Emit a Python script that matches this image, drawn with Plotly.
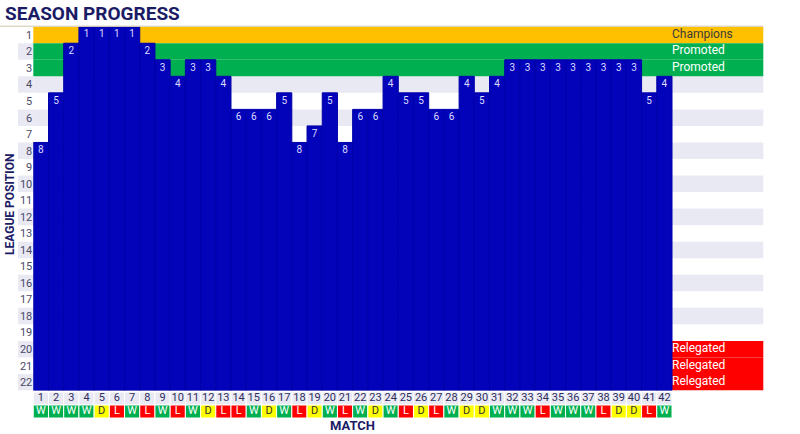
import plotly.graph_objects as go

# ---------------- data ----------------
matches = list(range(1, 43))
positions = [8, 5, 2, 1, 1, 1, 1, 2, 3, 4, 3, 3, 4, 6, 6, 6, 5, 8, 7, 5, 8,
             6, 6, 4, 5, 5, 6, 6, 4, 5, 4, 3, 3, 3, 3, 3, 3, 3, 3, 3, 5, 4]
results = ["W", "W", "W", "W", "D", "L", "W", "L", "W", "L", "W", "D", "L", "L",
           "W", "D", "W", "L", "D", "W", "L", "W", "D", "W", "L", "D", "L", "W",
           "D", "D", "W", "W", "W", "L", "W", "W", "W", "L", "D", "D", "L", "W"]
league_rows = list(range(1, 23))
zone_rows = [1, 2, 3, 20, 21, 22]
zone_labels = ["Champions", "Promoted", "Promoted", "Relegated", "Relegated", "Relegated"]

# ---------------- style ----------------
W_, H_ = 800, 434
BLUE = "#0303ba"
BLUE_EDGE = "#0000a8"
GOLD = "#ffc000"
GREEN = "#00b050"
RED = "#ff0000"
YELLOW = "#ffff00"
LAV = "#e9e9f3"
NAVY = "#1b1b66"
FONT = "Roboto"

def px(x):
    return x / W_

def py(y):
    return 1 - y / H_

X_LEFT, X_COLS_END, X_RIGHT = 33.3, 672.0, 763.3
col_w = (X_COLS_END - X_LEFT) / 42.0
x_max = 42.5 + (X_RIGHT - X_COLS_END) / col_w
Y_TOP, Y_BOT = 26.7, 390.5

result_colors = {"W": GREEN, "L": RED, "D": YELLOW}
result_text_colors = {"W": "white", "L": "white", "D": "#333333"}
zone_fill = {"Champions": GOLD, "Promoted": GREEN, "Relegated": RED}
zone_text = {"Champions": "#3a3a3a", "Promoted": "white", "Relegated": "white"}

fig = go.Figure()

# blue position bars (from position down to bottom row)
fig.add_trace(go.Bar(
    x=matches,
    y=[(p - 0.5) - 22.5 for p in positions],
    base=22.5,
    width=1.0,
    marker=dict(color=BLUE, line=dict(color=BLUE_EDGE, width=1)),
    hoverinfo="skip", showlegend=False,
))
# position numbers
fig.add_trace(go.Scatter(
    x=matches, y=positions, mode="text",
    text=[str(p) for p in positions],
    textfont=dict(color="#dcdcff", size=10, family=FONT),
    hoverinfo="skip", showlegend=False,
))
# zone labels
fig.add_trace(go.Scatter(
    x=[42.5] * len(zone_rows), y=zone_rows, mode="text",
    text=zone_labels, textposition="middle right",
    textfont=dict(color=[zone_text[z] for z in zone_labels], size=12, family=FONT),
    hoverinfo="skip", showlegend=False,
))

# bottom strip: match numbers + results
fig.add_trace(go.Bar(
    x=matches, y=[1] * 42, base=0.5, width=1.0, xaxis="x", yaxis="y2",
    marker=dict(color=LAV, line=dict(color="white", width=1)),
    hoverinfo="skip", showlegend=False,
))
fig.add_trace(go.Bar(
    x=matches, y=[1] * 42, base=1.5, width=1.0, xaxis="x", yaxis="y2",
    marker=dict(color=[result_colors[r] for r in results], line=dict(color="white", width=1)),
    hoverinfo="skip", showlegend=False,
))
fig.add_trace(go.Scatter(
    x=matches, y=[1] * 42, mode="text", xaxis="x", yaxis="y2",
    text=[str(m) for m in matches],
    textfont=dict(color="#2e2e5e", size=11, family=FONT),
    hoverinfo="skip", showlegend=False,
))
fig.add_trace(go.Scatter(
    x=matches, y=[2] * 42, mode="text", xaxis="x", yaxis="y2",
    text=results,
    textfont=dict(color=[result_text_colors[r] for r in results], size=11, family=FONT),
    hoverinfo="skip", showlegend=False,
))

# background bands
shapes = []
for r in league_rows:
    if r % 2 == 0:
        shapes.append(dict(type="rect", xref="paper", yref="y", x0=px(18), x1=px(X_LEFT),
                           y0=r - 0.5, y1=r + 0.5, fillcolor=LAV, line=dict(width=0), layer="below"))
    if 4 <= r <= 19 and r % 2 == 0:
        shapes.append(dict(type="rect", xref="paper", yref="y", x0=px(X_LEFT), x1=px(X_RIGHT),
                           y0=r - 0.5, y1=r + 0.5, fillcolor=LAV, line=dict(width=0), layer="below"))
for r, z in zip(zone_rows, zone_labels):
    x_start = X_LEFT if z != "Relegated" else X_COLS_END
    shapes.append(dict(type="rect", xref="paper", yref="y", x0=px(x_start), x1=px(X_RIGHT),
                       y0=r - 0.5, y1=r + 0.5, fillcolor=zone_fill[z], line=dict(width=0), layer="below"))
shapes.append(dict(type="line", xref="paper", yref="paper", x0=0, x1=px(X_RIGHT),
                   y0=py(26.2), y1=py(26.2), line=dict(color="#cfc6a8", width=1)))

fig.update_layout(
    width=W_, height=H_,
    margin=dict(l=0, r=0, t=0, b=0),
    paper_bgcolor="white", plot_bgcolor="rgba(0,0,0,0)",
    template="none",
    barmode="overlay",
    showlegend=False,
    shapes=shapes,
    font=dict(family=FONT, color=NAVY),
    xaxis=dict(domain=[px(X_LEFT), px(X_RIGHT)], range=[0.5, x_max], showgrid=False,
               zeroline=False, showticklabels=False, ticks="", automargin=False, fixedrange=True),
    yaxis=dict(domain=[py(Y_BOT), py(Y_TOP)], range=[22.5, 0.5], showgrid=False, zeroline=False,
               tickmode="array", tickvals=league_rows, ticktext=[str(r) for r in league_rows],
               ticks="", tickfont=dict(size=11, color="#4a4a6a", family=FONT),
               automargin=False, fixedrange=True),
    yaxis2=dict(domain=[py(418), py(392)], range=[2.5, 0.5], anchor="x", showgrid=False,
                zeroline=False, showticklabels=False, ticks="", automargin=False, fixedrange=True),
    annotations=[
        dict(text="<b>SEASON PROGRESS</b>", xref="paper", yref="paper", x=px(3), y=py(13),
             xanchor="left", yanchor="middle", showarrow=False,
             font=dict(size=19, color=NAVY, family=FONT)),
        dict(text="<b>LEAGUE POSITION</b>", xref="paper", yref="paper", x=px(10), y=py(205),
             xanchor="center", yanchor="middle", showarrow=False, textangle=-90,
             font=dict(size=12, color=NAVY, family=FONT)),
        dict(text="<b>MATCH</b>", xref="paper", yref="paper", x=px(352), y=py(425),
             xanchor="center", yanchor="middle", showarrow=False,
             font=dict(size=13, color=NAVY, family=FONT)),
    ],
)

fig.write_html(
    "out.html",
    config={"displayModeBar": False},
    post_script="document.body.style.margin='0';document.body.style.overflow='hidden';",
)
